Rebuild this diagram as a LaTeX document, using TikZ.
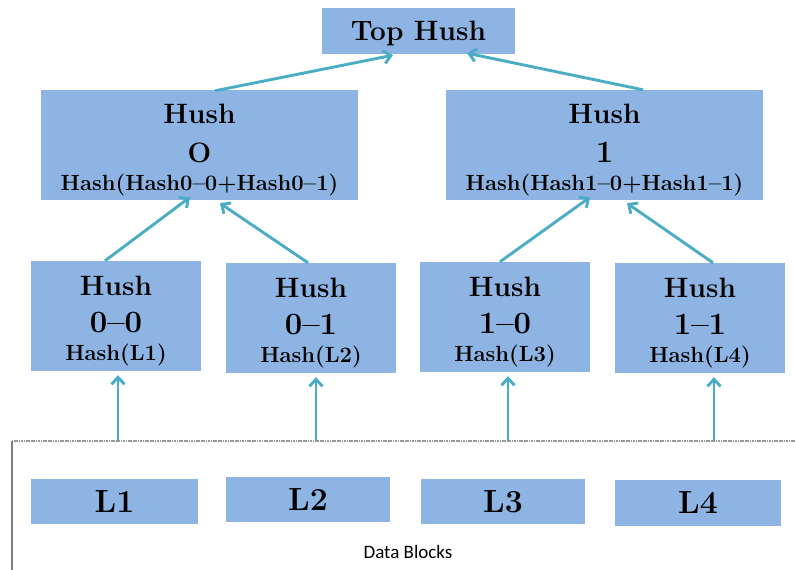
\documentclass[tikz,border=0pt]{standalone}
\usepackage{fontspec}
\newfontfamily\labelsans{Carlito}
\usetikzlibrary{arrows.meta,calc}
\definecolor{boxblue}{HTML}{8EB4E3}
\definecolor{linkteal}{HTML}{4BACC6}
\definecolor{framegray}{HTML}{9A9A9A}
\definecolor{edgegray}{HTML}{7F7F7F}
\newcommand{\hashtext}[1]{{\fontsize{22}{22}\selectfont #1}}
\newcommand{\idtext}[1]{{\fontsize{31}{31}\selectfont #1}}

\begin{document}
\begin{tikzpicture}[x=1pt,y=-1pt,
  blk/.style={fill=boxblue, draw=none, inner sep=0pt, align=center, text depth=0pt},
  rootbox/.style={blk, minimum width=193pt, minimum height=46pt, text height=18pt,
    font=\bfseries\fontsize{28}{34}\selectfont},
  midbox/.style={blk, minimum width=317pt, minimum height=110pt, text height=90pt,
    font=\bfseries\fontsize{28}{39}\selectfont},
  leafbox/.style={blk, minimum width=170pt, minimum height=110pt, text height=88pt,
    font=\bfseries\fontsize{28}{37}\selectfont},
  databox/.style={blk, minimum height=45pt, text height=21pt,
    font=\bfseries\fontsize{32}{36}\selectfont},
  link/.style={draw=linkteal, line width=2.9pt,
    -{Straight Barb[length=7pt,width=13pt]}},
]
\useasboundingbox (0,0) rectangle (795,570);

% data block frame
\coordinate (ftl) at (12,441);
\coordinate (ftr) at (795,441);
\coordinate (fbl) at (12,570);
\draw[framegray, line width=1.4pt, dash pattern=on 1.2pt off 0.5pt] (ftl) -- (ftr);
\draw[edgegray, line width=1.2pt] (ftl) -- (fbl);

% root
\node[rootbox] (top) at (418.5,31) {Top Hush};

% middle level
\node[midbox] (h0) at (199.5,145) {Hush\\ O\\[-11pt]\hashtext{Hash(Hash0--0+Hash0--1)}};
\node[midbox] (h1) at (604.5,145) {Hush\\ \idtext{1}\\[-11pt]\hashtext{Hash(Hash1--0+Hash1--1)}};

% leaf hashes
\node[leafbox] (h00) at (116,316) {Hush\\ \idtext{0--0}\\[-9pt]\hashtext{Hash(L1)}};
\node[leafbox] (h01) at (311,318) {Hush\\ \idtext{0--1}\\[-9pt]\hashtext{Hash(L2)}};
\node[leafbox] (h10) at (505,317) {Hush\\ \idtext{1--0}\\[-9pt]\hashtext{Hash(L3)}};
\node[leafbox] (h11) at (700,318) {Hush\\ \idtext{1--1}\\[-9pt]\hashtext{Hash(L4)}};

% data blocks
\node[databox, minimum width=167pt] (l1) at (114.5,501.5) {L1};
\node[databox, minimum width=164pt] (l2) at (308,499.5) {L2};
\node[databox, minimum width=164pt] (l3) at (503,501.5) {L3};
\node[databox, minimum width=166pt, minimum height=46pt] (l4) at (698,503) {L4};
\node[font=\labelsans\fontsize{19}{22}\selectfont, inner sep=0pt] (dbl) at (408,552) {Data Blocks};

% links up the tree
\draw[link] ($(h0.north)+(15.5,1)$) -- ($(top.south)+(-25.5,1)$);
\draw[link] ($(h1.north)+(38.5,0)$) -- ($(top.south)+(48.5,-1)$);
\draw[link] ($(h00.north)+(-11,0)$) -- ($(h0.south)+(-9.5,-3)$);
\draw[link] ($(h01.north)+(-3,0)$) -- ($(h0.south)+(20.5,3)$);
\draw[link] ($(h10.north)+(-5,0)$) -- ($(h1.south)+(-14.5,-3)$);
\draw[link] ($(h11.north)+(13,0)$) -- ($(h1.south)+(22.5,3)$);

% links from the data blocks
\draw[link] ($(h00.south |- ftl)+(2,0)$) -- ($(h00.south)+(2,4)$);
\draw[link] ($(h01.south |- ftl)+(5,0)$) -- ($(h01.south)+(5,4)$);
\draw[link] ($(h10.south |- ftl)+(3,0)$) -- ($(h10.south)+(3,4)$);
\draw[link] ($(h11.south |- ftl)+(14,0)$) -- ($(h11.south)+(14,4)$);
\end{tikzpicture}
\end{document}
